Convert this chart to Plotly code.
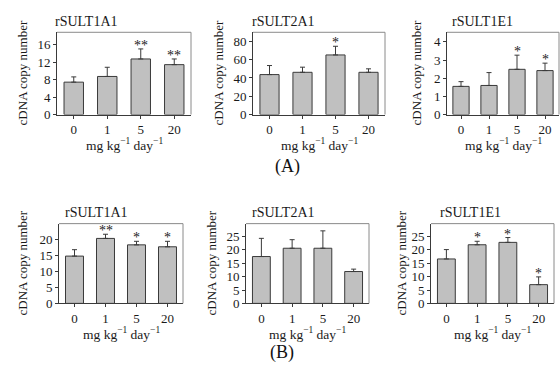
import plotly.graph_objects as go

W, H = 560, 375

doses = ["0", "1", "5", "20"]

# Panel A (top row)
a_titles = ["rSULT1A1", "rSULT2A1", "rSULT1E1"]
a1_vals = [7.4, 8.7, 12.7, 11.4]
a1_err = [1.2, 2.1, 2.3, 1.3]
a1_sig = ["", "", "**", "**"]
a2_vals = [43.7, 46.2, 65.2, 46.2]
a2_err = [9.9, 5.6, 9.5, 3.8]
a2_sig = ["", "", "*", ""]
a3_vals = [1.55, 1.6, 2.49, 2.42]
a3_err = [0.26, 0.71, 0.78, 0.41]
a3_sig = ["", "", "*", "*"]

# Panel B (bottom row)
b_titles = ["rSULT1A1", "rSULT2A1", "rSULT1E1"]
b1_vals = [14.7, 20.2, 18.2, 17.6]
b1_err = [2.0, 1.3, 1.1, 1.7]
b1_sig = ["", "**", "*", "*"]
b2_vals = [17.5, 20.6, 20.6, 11.9]
b2_err = [6.8, 3.2, 6.5, 0.9]
b2_sig = ["", "", "", ""]
b3_vals = [16.6, 21.9, 22.8, 7.0]
b3_err = [3.5, 1.3, 1.8, 2.9]
b3_sig = ["", "*", "*", "*"]

y_ranges = [18.8, 90, 4.53, 24.8, 29.8, 29.8]
y_dticks = [4, 20, 1, 5, 5, 5]

panels = [
    (a_titles[0], a1_vals, a1_err, a1_sig),
    (a_titles[1], a2_vals, a2_err, a2_sig),
    (a_titles[2], a3_vals, a3_err, a3_sig),
    (b_titles[0], b1_vals, b1_err, b1_sig),
    (b_titles[1], b2_vals, b2_err, b2_sig),
    (b_titles[2], b3_vals, b3_err, b3_sig),
]

# layout in page pixels (left, right, top, bottom)
boxes = [
    (57, 191, 33, 117), (253, 385, 33, 117), (447, 559, 33, 117),
    (59, 183, 228.5, 310), (246, 369, 228.5, 310), (431, 554, 228.5, 310),
]
title_x = [53, 250, 450, 63, 250, 438]
ytitle_x = [22, 218, 416, 23, 212, 402]

FONT = "Liberation Serif"
BAR = "#c0c0c0"
EDGE = "#3a3a3a"
TXT = "#1a1a1a"

fig = go.Figure()
annotations = []
shapes = []


def px(x):
    return x / W


def py(y):
    return 1 - y / H


for i, (title, vals, err, sig) in enumerate(panels):
    n = i + 1
    sfx = "" if n == 1 else str(n)
    xa, ya = "x" + sfx, "y" + sfx
    l, r, t, b = boxes[i]
    fig.add_trace(go.Bar(
        x=doses, y=vals, xaxis=xa, yaxis=ya,
        marker=dict(color=BAR, line=dict(color=EDGE, width=1)),
        error_y=dict(type="data", array=err, arrayminus=[0] * len(err),
                     symmetric=False, color=EDGE, thickness=1, width=2.5),
        showlegend=False, hoverinfo="skip",
    ))
    fig.update_layout({
        "xaxis" + sfx: dict(
            domain=[px(l), px(r)], anchor=ya, type="category",
            categoryorder="array", categoryarray=doses,
            range=[-0.5, len(doses) - 0.5],
            showline=True, linecolor=EDGE, linewidth=1,
            ticks="outside", ticklen=3, tickcolor=EDGE,
            tickfont=dict(family=FONT, size=13, color=TXT),
            showgrid=False, zeroline=False, fixedrange=True,
        ),
        "yaxis" + sfx: dict(
            domain=[py(b), py(t)], anchor=xa, range=[0, y_ranges[i]],
            tick0=0, dtick=y_dticks[i],
            showline=True, linecolor=EDGE, linewidth=1,
            ticks="outside", ticklen=3, tickcolor=EDGE,
            tickfont=dict(family=FONT, size=13, color=TXT),
            showgrid=False, zeroline=False, fixedrange=True,
        ),
    })
    # top and right frame lines (lighter)
    shapes.append(dict(type="line", xref="paper", yref="paper",
                       x0=px(l), x1=px(r), y0=py(t), y1=py(t),
                       line=dict(color="#8a8a8a", width=1)))
    shapes.append(dict(type="line", xref="paper", yref="paper",
                       x0=px(r), x1=px(r), y0=py(t), y1=py(b),
                       line=dict(color="#8a8a8a", width=1)))
    # panel title
    annotations.append(dict(text=title, xref="paper", yref="paper",
                            x=px(title_x[i]), y=py(t - 11), xanchor="left",
                            yanchor="middle", showarrow=False,
                            font=dict(family=FONT, size=14, color=TXT)))
    # y title
    annotations.append(dict(text="cDNA copy number", xref="paper", yref="paper",
                            x=px(ytitle_x[i]), y=py((t + b) / 2), textangle=-90,
                            xanchor="center", yanchor="middle", showarrow=False,
                            font=dict(family=FONT, size=13, color=TXT)))
    # x title
    annotations.append(dict(text="mg kg<sup>\u22121</sup> day<sup>\u22121</sup>",
                            xref="paper", yref="paper",
                            x=px((l + r) / 2), y=py(b + 31), xanchor="center",
                            yanchor="middle", showarrow=False,
                            font=dict(family=FONT, size=13.5, color=TXT)))
    # significance stars
    for j, (v, e, s) in enumerate(zip(vals, err, sig)):
        if s:
            annotations.append(dict(text=s, xref=xa, yref=ya, x=j, y=v + e,
                                    xanchor="center", yanchor="bottom",
                                    yshift=-6, showarrow=False,
                                    font=dict(family=FONT, size=14, color="#222")))

annotations.append(dict(text="(A)", xref="paper", yref="paper", x=px(287), y=py(170),
                        xanchor="center", yanchor="middle", showarrow=False,
                        font=dict(family=FONT, size=18, color="#111")))
annotations.append(dict(text="(B)", xref="paper", yref="paper", x=px(282), y=py(360),
                        xanchor="center", yanchor="middle", showarrow=False,
                        font=dict(family=FONT, size=18, color="#111")))

fig.update_layout(
    width=W, height=H, margin=dict(l=0, r=0, t=0, b=0),
    paper_bgcolor="white", plot_bgcolor="white",
    bargap=0.42, annotations=annotations, shapes=shapes,
    font=dict(family=FONT),
)

fig.write_html(
    "out.html",
    config={"displayModeBar": False},
    post_script="document.body.style.margin='0px';document.body.style.overflow='hidden';",
)
